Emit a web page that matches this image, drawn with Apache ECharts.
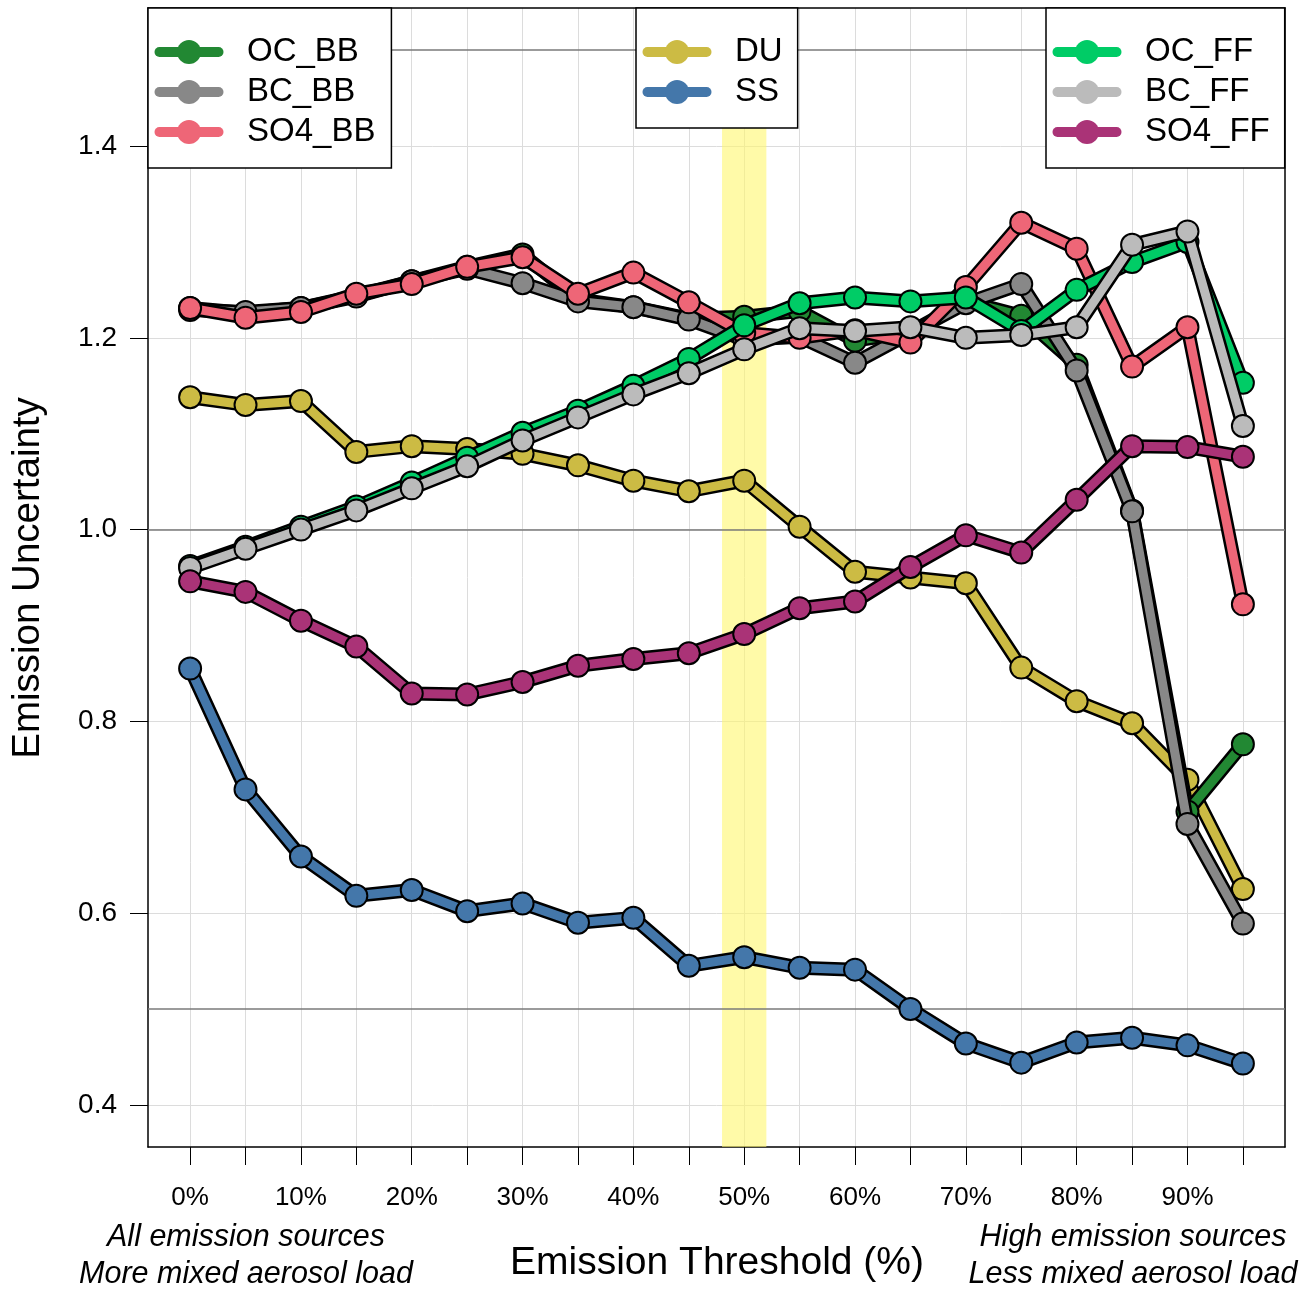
<!DOCTYPE html>
<html>
<head>
<meta charset="utf-8">
<script src="https://cdn.jsdelivr.net/npm/echarts@6.0.0/dist/echarts.min.js"></script>
<style>
  html, body { margin: 0; padding: 0; background: #ffffff; }
  #chart { width: 1312px; height: 1291px; }
</style>
</head>
<body>
<div id="chart"></div>
<script>
// emission threshold (%) on x
const thresholds = [0, 5, 10, 15, 20, 25, 30, 35, 40, 45, 50, 55, 60, 65, 70, 75, 80, 85, 90, 95];

// emission uncertainty per species
const DU = [1.138, 1.130, 1.134, 1.081, 1.087, 1.084, 1.079, 1.067, 1.051, 1.040, 1.051, 1.003, 0.956, 0.950, 0.944, 0.856, 0.821, 0.798, 0.739, 0.625];
const SS = [0.855, 0.729, 0.659, 0.618, 0.624, 0.602, 0.610, 0.590, 0.595, 0.545, 0.554, 0.543, 0.541, 0.500, 0.464, 0.444, 0.465, 0.470, 0.462, 0.443];
const OC_BB = [1.231, 1.226, 1.231, 1.244, 1.259, 1.274, 1.287, 1.240, 1.232, 1.220, 1.222, 1.228, 1.197, 1.206, 1.238, 1.223, 1.172, 1.020, 0.706, 0.776];
const BC_BB = [1.229, 1.227, 1.231, 1.243, 1.259, 1.272, 1.257, 1.238, 1.232, 1.219, 1.198, 1.201, 1.174, 1.205, 1.236, 1.256, 1.166, 1.019, 0.693, 0.589];
const SO4_BB = [1.231, 1.221, 1.227, 1.246, 1.256, 1.274, 1.284, 1.246, 1.268, 1.237, 1.205, 1.200, 1.208, 1.195, 1.253, 1.320, 1.293, 1.170, 1.211, 0.922];
const OC_FF = [0.962, 0.982, 1.003, 1.024, 1.049, 1.075, 1.101, 1.124, 1.150, 1.178, 1.213, 1.236, 1.242, 1.238, 1.242, 1.207, 1.250, 1.279, 1.300, 1.153];
const BC_FF = [0.960, 0.980, 1.000, 1.020, 1.043, 1.066, 1.093, 1.117, 1.141, 1.163, 1.188, 1.210, 1.207, 1.211, 1.200, 1.203, 1.211, 1.297, 1.311, 1.108];
const SO4_FF = [0.946, 0.935, 0.905, 0.878, 0.829, 0.828, 0.841, 0.858, 0.865, 0.871, 0.891, 0.918, 0.925, 0.961, 0.994, 0.976, 1.031, 1.087, 1.086, 1.076];

// ticks, labels, reference lines
const xTickValues = [0, 5, 10, 15, 20, 25, 30, 35, 40, 45, 50, 55, 60, 65, 70, 75, 80, 85, 90, 95];
const xLabelValues = [0, 10, 20, 30, 40, 50, 60, 70, 80, 90];
const yLabelValues = [0.4, 0.6, 0.8, 1.0, 1.2, 1.4];
const refLines = [0.5, 1.0, 1.5];
const bandRange = [48, 52];

const legendGroups = [
  ["OC_BB", "BC_BB", "SO4_BB"],
  ["DU", "SS"],
  ["OC_FF", "BC_FF", "SO4_FF"],
];

const FONT = '"Liberation Sans", Arial, Helvetica, sans-serif';

// drawing order: first is at the bottom
const speciesList = [
  { name: "DU", values: DU, color: "#CCBB44" },
  { name: "SS", values: SS, color: "#4477AA" },
  { name: "OC_BB", values: OC_BB, color: "#228833" },
  { name: "BC_BB", values: BC_BB, color: "#888888" },
  { name: "SO4_BB", values: SO4_BB, color: "#EE6677" },
  { name: "OC_FF", values: OC_FF, color: "#00CC66" },
  { name: "BC_FF", values: BC_FF, color: "#BBBBBB" },
  { name: "SO4_FF", values: SO4_FF, color: "#AA3377" },
];

function pairs(values) {
  return thresholds.map((t, i) => [t, values[i]]);
}

const series = [
  {
    type: "line",
    name: "guides",
    data: [],
    silent: true,
    z: 1,
    markArea: {
      silent: true,
      z: 1,
      itemStyle: { color: "rgba(255, 246, 110, 0.6)" },
      data: [[{ xAxis: bandRange[0] }, { xAxis: bandRange[1] }]],
    },
    markLine: {
      silent: true,
      z: 1,
      symbol: "none",
      label: { show: false },
      lineStyle: { color: "#7a7a7a", width: 1.5, type: "solid" },
      data: refLines.map((v) => ({ yAxis: v })),
    },
  },
];

speciesList.forEach((sp, i) => {
  // black casing under each coloured line
  series.push({
    type: "line",
    name: sp.name + " outline",
    data: pairs(sp.values),
    symbol: "none",
    silent: true,
    z: 10 + i * 2,
    lineStyle: { color: "#000000", width: 14, cap: "round", join: "round" },
  });
  series.push({
    type: "line",
    name: sp.name,
    data: pairs(sp.values),
    symbol: "circle",
    symbolSize: 22,
    z: 11 + i * 2,
    lineStyle: { color: sp.color, width: 9, cap: "round", join: "round" },
    itemStyle: { color: sp.color, borderColor: "#000000", borderWidth: 2 },
  });
});

function buildLegend(names, left, padRight) {
  return {
    data: names,
    left,
    top: 8,
    orient: "vertical",
    selectedMode: false,
    z: 100,
    itemWidth: 59,
    itemHeight: 30,
    itemGap: 7,
    padding: [27.5, padRight, 19.5, 6.5],
    backgroundColor: "#ffffff",
    borderColor: "#000000",
    borderWidth: 1.5,
    borderRadius: 0,
    lineStyle: { width: 10, cap: "round" },
    itemStyle: { borderWidth: 0 },
    textStyle: {
      fontFamily: FONT,
      fontSize: 33,
      color: "#000000",
      padding: [0, 0, 0, 23.5],
    },
  };
}

const frameLine = { show: true, onZero: false, lineStyle: { color: "#000000", width: 1.5 } };

const option = {
  animation: false,
  backgroundColor: "#ffffff",
  textStyle: { fontFamily: FONT },
  grid: { left: 148, top: 8, width: 1137, height: 1139, containLabel: false },
  xAxis: [
    {
      type: "value",
      min: -3.8,
      max: 98.8,
      splitNumber: 20,
      axisLine: frameLine,
      axisTick: {
        show: true,
        length: 18,
        customValues: xTickValues,
        lineStyle: { color: "#000000", width: 1 },
      },
      axisLabel: {
        customValues: xLabelValues,
        margin: 38,
        fontSize: 26,
        color: "#000000",
        fontFamily: FONT,
        formatter: (v) => v + "%",
      },
      splitLine: { show: true, lineStyle: { color: "#dcdcdc", width: 1 } },
    },
    {
      type: "value",
      position: "top",
      min: -3.8,
      max: 98.8,
      axisLine: frameLine,
      axisTick: { show: false },
      axisLabel: { show: false },
      splitLine: { show: false },
    },
  ],
  yAxis: [
    {
      type: "value",
      min: 0.356,
      max: 1.544,
      splitNumber: 12,
      axisLine: frameLine,
      axisTick: {
        show: true,
        length: 18,
        customValues: yLabelValues,
        lineStyle: { color: "#000000", width: 1 },
      },
      axisLabel: {
        customValues: yLabelValues,
        margin: 31,
        fontSize: 28,
        color: "#000000",
        fontFamily: FONT,
        formatter: (v) => Number(v).toFixed(1),
      },
      splitLine: { show: true, lineStyle: { color: "#dcdcdc", width: 1 } },
    },
    {
      type: "value",
      position: "right",
      min: 0.356,
      max: 1.544,
      axisLine: frameLine,
      axisTick: { show: false },
      axisLabel: { show: false },
      splitLine: { show: false },
    },
  ],
  legend: [
    buildLegend(legendGroups[0], 148, 16),
    buildLegend(legendGroups[1], 636, 15),
    buildLegend(legendGroups[2], 1046, 15),
  ],
  graphic: [
    {
      type: "text",
      x: 28,
      y: 578,
      rotation: Math.PI / 2,
      z: 100,
      style: {
        text: "Emission Uncertainty",
        fontSize: 38.5,
        fontFamily: FONT,
        fill: "#000000",
        align: "center",
        verticalAlign: "middle",
      },
    },
    {
      type: "text",
      x: 717,
      y: 1263,
      z: 100,
      style: {
        text: "Emission Threshold (%)",
        fontSize: 39,
        fontFamily: FONT,
        fill: "#000000",
        align: "center",
        verticalAlign: "middle",
      },
    },
    {
      type: "text",
      x: 246,
      y: 1256,
      z: 100,
      style: {
        text: "All emission sources\nMore mixed aerosol load",
        fontSize: 30.5,
        fontStyle: "italic",
        fontFamily: FONT,
        lineHeight: 37,
        fill: "#000000",
        align: "center",
        verticalAlign: "middle",
      },
    },
    {
      type: "text",
      x: 1133,
      y: 1256,
      z: 100,
      style: {
        text: "High emission sources\nLess mixed aerosol load",
        fontSize: 30.5,
        fontStyle: "italic",
        fontFamily: FONT,
        lineHeight: 37,
        fill: "#000000",
        align: "center",
        verticalAlign: "middle",
      },
    },
  ],
  series,
};

const chart = echarts.init(document.getElementById("chart"), null, { renderer: "canvas" });
chart.setOption(option);
</script>
</body>
</html>
